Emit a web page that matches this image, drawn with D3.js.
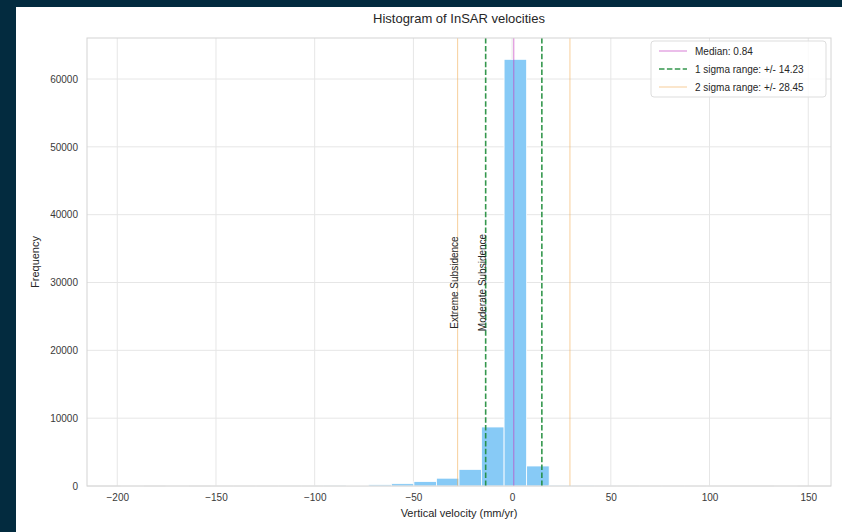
<!DOCTYPE html>
<html>
<head>
<meta charset="utf-8">
<script src="https://cdn.jsdelivr.net/npm/d3@7"></script>
<style>
  html, body { margin: 0; padding: 0; background: #032b3f; }
  svg { display: block; }
  text { font-family: "Liberation Sans", Arial, Helvetica, sans-serif; }
</style>
</head>
<body>
<svg id="chart" width="842" height="532"></svg>
<script>
// ---- data ----
const binEdges = [-198.20, -186.78, -175.36, -163.94, -152.52, -141.10, -129.68, -118.26,
  -106.84, -95.42, -84.00, -72.58, -61.16, -49.74, -38.32, -26.90, -15.48, -4.06,
  7.36, 18.78, 30.20, 41.62, 53.04, 64.46, 75.88, 87.30, 98.72, 110.14, 121.56, 132.98, 144.40];
const binCounts = [1, 0, 1, 0, 2, 1, 3, 4, 8, 30, 90, 180, 340, 650, 1150, 2450, 8700, 62900,
  2950, 140, 35, 12, 5, 3, 2, 1, 1, 0, 0, 1];
const xTicks = [-200, -150, -100, -50, 0, 50, 100, 150];
const yTicks = [0, 10000, 20000, 30000, 40000, 50000, 60000];
const median = 0.84;
const sigma1 = 14.23;
const sigma2 = 28.45;
const annotations = [
  { x: -28.45, y: 30000, label: "Extreme Subsidence" },
  { x: -14.23, y: 30000, label: "Moderate Subsidence" }
];
const legendItems = [
  { key: "median", label: "Median: 0.84" },
  { key: "s1", label: "1 sigma range: +/- 14.23" },
  { key: "s2", label: "2 sigma range: +/- 28.45" }
];
const titleText = "Histogram of InSAR velocities";
const xLabel = "Vertical velocity (mm/yr)";
const yLabel = "Frequency";

// ---- layout ----
const svg = d3.select("#chart");
const fig = { x: 16, y: 7, w: 826, h: 525 };
const plot = { left: 87, right: 831, top: 38, bottom: 486 };

svg.append("rect").attr("x", fig.x).attr("y", fig.y).attr("width", fig.w).attr("height", fig.h).attr("fill", "#ffffff");

const lo = binEdges[0], hi = binEdges[binEdges.length - 1];
const span = hi - lo;
const x = d3.scaleLinear().domain([lo - 0.05 * span, hi + 0.05 * span]).range([plot.left, plot.right]);
const y = d3.scaleLinear().domain([0, d3.max(binCounts) * 1.05]).range([plot.bottom, plot.top]);

const styles = {
  median: { stroke: "#c43cc0", opacity: 0.6, width: 1.1, dash: null },
  s1: { stroke: "#1e8c3a", opacity: 0.9, width: 1.6, dash: "5.5,2.4" },
  s2: { stroke: "#f2ae5a", opacity: 0.55, width: 1.1, dash: null }
};

// grid
const g = svg.append("g");
g.selectAll(".gx").data(xTicks).join("line")
  .attr("x1", d => x(d)).attr("x2", d => x(d)).attr("y1", plot.top).attr("y2", plot.bottom)
  .attr("stroke", "#e6e6e6").attr("stroke-width", 1);
g.selectAll(".gy").data(yTicks).join("line")
  .attr("x1", plot.left).attr("x2", plot.right).attr("y1", d => y(d)).attr("y2", d => y(d))
  .attr("stroke", "#e6e6e6").attr("stroke-width", 1);

// bars
const bins = binCounts.map((c, i) => ({ x0: binEdges[i], x1: binEdges[i + 1], c }));
svg.append("g").selectAll("rect").data(bins).join("rect")
  .attr("x", d => x(d.x0)).attr("width", d => x(d.x1) - x(d.x0))
  .attr("y", d => y(d.c)).attr("height", d => y(0) - y(d.c))
  .attr("fill", "#87caf6").attr("stroke", "#ffffff").attr("stroke-width", 0.8);

// reference lines
const refLines = [
  { v: median, key: "median" },
  { v: median - sigma1, key: "s1" }, { v: median + sigma1, key: "s1" },
  { v: median - sigma2, key: "s2" }, { v: median + sigma2, key: "s2" }
];
svg.append("g").selectAll("line").data(refLines).join("line")
  .attr("x1", d => x(d.v)).attr("x2", d => x(d.v)).attr("y1", plot.top).attr("y2", plot.bottom)
  .attr("stroke", d => styles[d.key].stroke)
  .attr("stroke-opacity", d => styles[d.key].opacity)
  .attr("stroke-width", d => styles[d.key].width)
  .attr("stroke-dasharray", d => styles[d.key].dash);

// frame
svg.append("rect").attr("x", plot.left).attr("y", plot.top)
  .attr("width", plot.right - plot.left).attr("height", plot.bottom - plot.top)
  .attr("fill", "none").attr("stroke", "#d4d4d4").attr("stroke-width", 1);

// annotations
svg.append("g").selectAll("text").data(annotations).join("text")
  .attr("transform", d => `translate(${x(d.x) - 1.5},${y(d.y)}) rotate(-90)`)
  .attr("text-anchor", "middle").attr("dominant-baseline", "central")
  .attr("font-size", 10).attr("fill", "#262626").text(d => d.label);

// axes
const xAxis = svg.append("g").attr("transform", `translate(0,${plot.bottom})`)
  .call(d3.axisBottom(x).tickValues(xTicks).tickSize(0).tickPadding(8)
    .tickFormat(d => d < 0 ? "\u2212" + Math.abs(d) : String(d)));
const yAxis = svg.append("g").attr("transform", `translate(${plot.left},0)`)
  .call(d3.axisLeft(y).tickValues(yTicks).tickSize(0).tickPadding(9).tickFormat(d3.format("d")));
[xAxis, yAxis].forEach(a => {
  a.select(".domain").remove();
  a.selectAll("text").attr("font-size", 10).attr("fill", "#3a3a3a")
    .attr("font-family", "'Liberation Sans', Arial, sans-serif");
});

// labels
svg.append("text").attr("x", (plot.left + plot.right) / 2).attr("y", 23)
  .attr("text-anchor", "middle").attr("font-size", 13).attr("fill", "#262626").text(titleText);
svg.append("text").attr("x", (plot.left + plot.right) / 2).attr("y", 517)
  .attr("text-anchor", "middle").attr("font-size", 11).attr("fill", "#262626").text(xLabel);
svg.append("text").attr("transform", `translate(39,${(plot.top + plot.bottom) / 2}) rotate(-90)`)
  .attr("text-anchor", "middle").attr("font-size", 11).attr("fill", "#262626").text(yLabel);

// legend
const lg = svg.append("g").attr("transform", `translate(651,41)`);
lg.append("rect").attr("width", 175).attr("height", 56).attr("rx", 3)
  .attr("fill", "#ffffff").attr("fill-opacity", 0.8).attr("stroke", "#dddddd");
const rows = lg.selectAll("g.row").data(legendItems).join("g")
  .attr("transform", (d, i) => `translate(0,${10 + i * 18})`);
rows.append("line").attr("x1", 8).attr("x2", 36).attr("y1", 0).attr("y2", 0)
  .attr("stroke", d => styles[d.key].stroke)
  .attr("stroke-opacity", d => styles[d.key].opacity)
  .attr("stroke-width", d => styles[d.key].width)
  .attr("stroke-dasharray", d => styles[d.key].dash);
rows.append("text").attr("x", 44).attr("y", 0).attr("dominant-baseline", "central")
  .attr("font-size", 10).attr("fill", "#262626").text(d => d.label);
</script>
</body>
</html>
